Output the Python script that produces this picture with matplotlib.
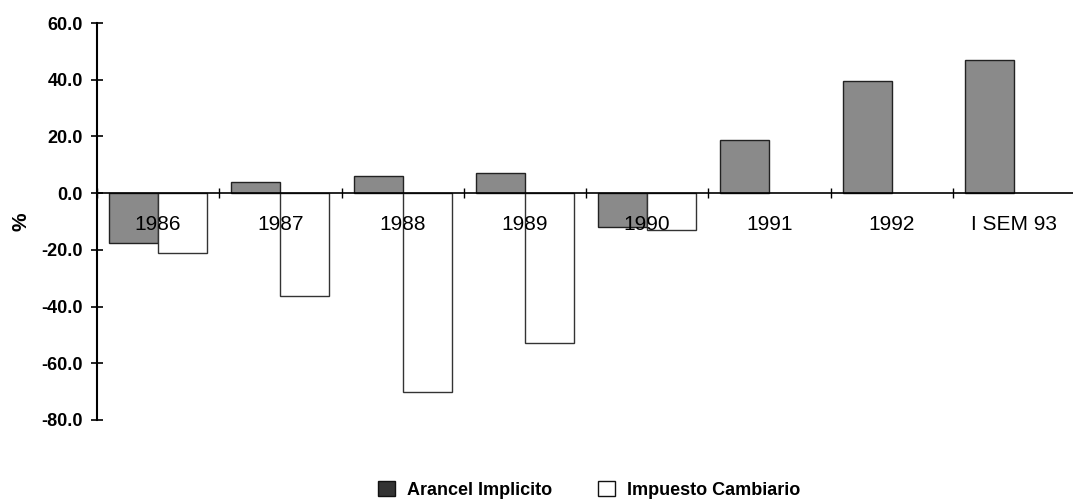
import matplotlib
matplotlib.use("Agg")
import matplotlib.pyplot as plt
from matplotlib.patches import Patch
import numpy as np

categories = ["1986", "1987", "1988", "1989", "1990", "1991", "1992", "I SEM 93"]
arancel = [-17.5, 3.9, 6.2, 7.0, -12.1, 18.8, 39.6, 46.8]
impuesto = [-21.2, -36.2, -70.0, -52.8, -13.0, np.nan, np.nan, np.nan]
yticks = [-80, -60, -40, -20, 0, 20, 40, 60]

fig = plt.figure(figsize=(10.73, 5.03), dpi=100)
ax = fig.add_axes([97/1073, 83/503, 978/1073, 397/503])

x = np.arange(len(categories))
w = 0.4
ax.bar(x - w/2, arancel, width=w, color="#8a8a8a", edgecolor="#222222", linewidth=1.0, zorder=2)
ax.bar(x + w/2, impuesto, width=w, color="white", edgecolor="#333333", linewidth=1.0, zorder=2)
ax.set_axisbelow(False)

ax.set_xlim(-0.5, len(categories) - 0.5)
ax.set_ylim(-80, 60)

for s in ["top", "right"]:
    ax.spines[s].set_visible(False)
ax.spines["bottom"].set_position(("data", 0))
ax.spines["bottom"].set_linewidth(1.2)
ax.spines["bottom"].set_zorder(3)
ax.spines["left"].set_linewidth(1.5)

ax.set_yticks(yticks)
ax.set_yticklabels([f"{v:.1f}" for v in yticks], fontfamily="Liberation Sans",
                   fontweight="bold", fontsize=13)
ax.tick_params(axis="y", direction="inout", length=8, width=1.2, pad=6)

ax.set_xticks(np.arange(len(categories) + 1) - 0.5)
ax.set_xticklabels([])
ax.tick_params(axis="x", which="major", direction="inout", length=7, width=1.0)
ax.set_xticks(x, minor=True)
ax.set_xticklabels(categories, minor=True, fontfamily="Liberation Sans", fontsize=15)
ax.tick_params(axis="x", which="minor", length=0, pad=16)

ax.set_ylabel("%", fontfamily="Liberation Sans", fontweight="bold", fontsize=15, labelpad=8)

handles = [Patch(facecolor="#333333", edgecolor="#111111"),
           Patch(facecolor="white", edgecolor="#111111")]
fig.legend(handles, ["Arancel Implicito", "Impuesto Cambiario"], loc="center",
           bbox_to_anchor=(0.549, 0.026), ncol=2, frameon=False, columnspacing=2.5,
           handlelength=0.95, handleheight=0.95, handletextpad=0.7,
           prop={"family": "Liberation Sans", "weight": "bold", "size": 13})

fig.savefig("out.png", dpi=100)
